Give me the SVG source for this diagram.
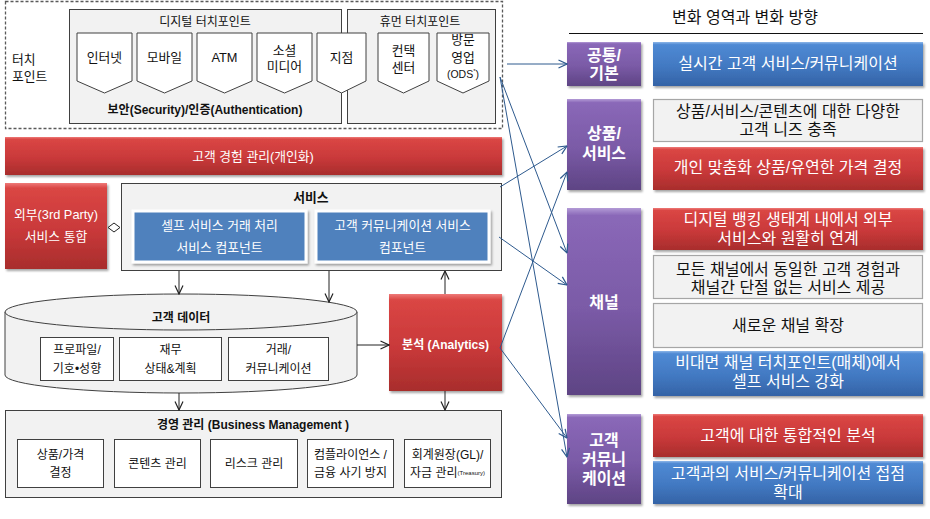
<svg xmlns="http://www.w3.org/2000/svg" width="930" height="519" viewBox="0 0 930 519">
<defs>
  <linearGradient id="gRed" x1="0" y1="0" x2="0" y2="1">
    <stop offset="0" stop-color="#EE7A78"/>
    <stop offset="0.06" stop-color="#DA4644"/>
    <stop offset="0.55" stop-color="#C9393A"/>
    <stop offset="1" stop-color="#A82D2C"/>
  </linearGradient>
  <linearGradient id="gBlue" x1="0" y1="0" x2="0" y2="1">
    <stop offset="0" stop-color="#8DB6E8"/>
    <stop offset="0.06" stop-color="#4F8AD4"/>
    <stop offset="0.55" stop-color="#4279C2"/>
    <stop offset="1" stop-color="#3463A6"/>
  </linearGradient>
  <linearGradient id="gPurple" x1="0" y1="0" x2="0" y2="1">
    <stop offset="0" stop-color="#B39BD6"/>
    <stop offset="0.04" stop-color="#8A68B8"/>
    <stop offset="0.55" stop-color="#7A5AA6"/>
    <stop offset="1" stop-color="#5E4484"/>
  </linearGradient>
  <filter id="sh" x="-10%" y="-10%" width="130%" height="140%">
    <feDropShadow dx="1.5" dy="2" stdDeviation="1.2" flood-color="#000" flood-opacity="0.35"/>
  </filter>
  <marker id="aBlue" viewBox="0 0 10 10" refX="9.5" refY="5" markerWidth="10" markerHeight="10" markerUnits="userSpaceOnUse" orient="auto">
    <path d="M1,1 L9.5,5 L1,9" fill="none" stroke="#2E5A8E" stroke-width="1.2"/>
  </marker>
  <marker id="aBlack" viewBox="0 0 10 10" refX="9.5" refY="5" markerWidth="10" markerHeight="10" markerUnits="userSpaceOnUse" orient="auto">
    <path d="M1,1 L9.5,5 L1,9" fill="none" stroke="#222" stroke-width="1.2"/>
  </marker>
</defs>
<style>
  text { font-family: "Liberation Sans", "Noto Sans CJK KR", sans-serif; fill: #111; text-anchor: middle; dominant-baseline: central; }
  .s12 { font-size: 12px; }
  .s13 { font-size: 12.8px; }
  .s16 { font-size: 16px; }
  .b { font-weight: bold; }
  .w { fill: #fff; }
  .red { fill: url(#gRed); filter: url(#sh); }
  .blue { fill: url(#gBlue); filter: url(#sh); }
  .purple { fill: url(#gPurple); filter: url(#sh); }
  .gray { fill: #F2F2F2; stroke: #404040; stroke-width: 1; }
  .grayR { fill: #F2F2F2; stroke: #A6A6A6; stroke-width: 1.2; }
  .wbox { fill: #fff; stroke: #404040; stroke-width: 1; }
  .pent { fill: #fff; stroke: #404040; stroke-width: 1; }
  .ibox { fill: #4F81BD; stroke: #fff; stroke-width: 3; filter: url(#sh); }
  .cb { stroke: #2E5A8E; stroke-width: 1; fill: none; marker-end: url(#aBlue); }
  .ck { stroke: #222; stroke-width: 1; fill: none; marker-end: url(#aBlack); }
</style>
<rect x="0" y="0" width="930" height="519" fill="#fff"/>

<!-- Touch point area -->
<g id="touchpoint-area">
  <rect x="5.5" y="1.5" width="497" height="127" fill="none" stroke="#595959" stroke-width="1.3" stroke-dasharray="3,2"/>
  <text class="s13" x="12" y="59" style="text-anchor:start">터치</text>
  <text class="s13" x="12" y="76" style="text-anchor:start">포인트</text>
</g>
<g id="digital-touchpoints">
  <rect class="gray" x="69.5" y="9.5" width="272" height="114"/>
  <text class="s12" x="205" y="22">디지털 터치포인트</text>
  <text class="s12 b" x="205" y="110">보안(Security)/인증(Authentication)</text>
</g>
<g id="human-touchpoints">
  <rect class="gray" x="347.5" y="9.5" width="148" height="114"/>
  <text class="s12" x="420" y="22">휴먼 터치포인트</text>
</g>
<g id="tp-internet">
  <polygon class="pent" points="77,33 132,33 132,81 104.5,93 77,81"/>
  <text class="s13" x="104.5" y="57">인터넷</text>
</g>
<g id="tp-mobile">
  <polygon class="pent" points="137,33 192,33 192,81 164.5,93 137,81"/>
  <text class="s13" x="164.5" y="57">모바일</text>
</g>
<g id="tp-atm">
  <polygon class="pent" points="197,33 252,33 252,81 224.5,93 197,81"/>
  <text class="s13" x="224.5" y="57">ATM</text>
</g>
<g id="tp-social">
  <polygon class="pent" points="257,33 312,33 312,81 284.5,93 257,81"/>
  <text class="s13" x="284.5" y="50">소셜</text>
  <text class="s13" x="284.5" y="66">미디어</text>
</g>
<g id="tp-branch">
  <polygon class="pent" points="317,33 366,33 366,81 341.5,93 317,81"/>
  <text class="s13" x="341.5" y="57">지점</text>
</g>
<g id="tp-contact">
  <polygon class="pent" points="378,33 429,33 429,81 403.5,93 378,81"/>
  <text class="s13" x="403.5" y="50">컨택</text>
  <text class="s13" x="403.5" y="67">센터</text>
</g>
<g id="tp-visit">
  <polygon class="pent" points="437,33 489,33 489,81 463,93 437,81"/>
  <text class="s13" x="463" y="39">방문</text>
  <text class="s13" x="463" y="57">영업</text>
  <text x="463" y="74" style="font-size:10.5px">(ODS<tspan style="font-size:6px" dy="-3">*</tspan><tspan dy="3">)</tspan></text>
</g>

<!-- Customer experience management -->
<g id="cem">
  <rect class="red" x="5" y="137" width="497" height="38"/>
  <text class="s13 w" x="253" y="156">고객 경험 관리(개인화)</text>
</g>
<g id="external">
  <rect class="red" x="5" y="183" width="102" height="86"/>
  <text class="s13 w" x="56" y="214">외부(3rd Party)</text>
  <text class="s13 w" x="56" y="236">서비스 통합</text>
</g>
<g id="services">
  <rect class="gray" x="121.5" y="183.5" width="380" height="87"/>
  <text class="s13 b" x="311" y="197">서비스</text>
  <polygon points="108,227.5 114,223 120,227.5 114,232" fill="#fff" stroke="#222" stroke-width="1"/>
</g>
<g id="svc-self">
  <rect class="ibox" x="133" y="211" width="173" height="51"/>
  <text class="s13 w" x="219.5" y="225">셀프 서비스 거래 처리</text>
  <text class="s13 w" x="219.5" y="247">서비스 컴포넌트</text>
</g>
<g id="svc-comm">
  <rect class="ibox" x="316" y="211" width="173" height="51"/>
  <text class="s13 w" x="402.5" y="225">고객 커뮤니케이션 서비스</text>
  <text class="s13 w" x="402.5" y="247">컴포넌트</text>
</g>

<!-- Customer data cylinder -->
<g id="customer-data">
  <path d="M5,312 V375 A176,18 0 0 0 357,375 V312 Z" fill="#F2F2F2" stroke="#404040" stroke-width="1"/>
  <ellipse cx="181" cy="312" rx="176" ry="18" fill="#F2F2F2" stroke="#404040" stroke-width="1"/>
  <text class="s12 b" x="181" y="318">고객 데이터</text>
  <rect class="wbox" x="40.5" y="337.5" width="73" height="43"/>
  <text class="s12" x="77" y="350">프로파일/</text>
  <text class="s12" x="77" y="369">기호•성향</text>
  <rect class="wbox" x="119.5" y="337.5" width="102" height="43"/>
  <text class="s12" x="170.5" y="350">재무</text>
  <text class="s12" x="170.5" y="369">상태&amp;계획</text>
  <rect class="wbox" x="228.5" y="337.5" width="100" height="43"/>
  <text class="s12" x="278.5" y="350">거래/</text>
  <text class="s12" x="278.5" y="369">커뮤니케이션</text>
</g>
<g id="analytics">
  <rect class="red" x="389" y="294" width="113" height="97"/>
  <text class="s12 b w" x="445.5" y="345">분석 (Analytics)</text>
</g>

<!-- Business management -->
<g id="business-mgmt">
  <rect class="gray" x="5.5" y="410.5" width="496" height="87"/>
  <text class="s12 b" x="253" y="425">경영 관리 (Business Management )</text>
</g>
<g id="bm-product">
  <rect class="wbox" x="17.5" y="439.5" width="86" height="48"/>
  <text class="s12" x="60.5" y="455">상품/가격</text>
  <text class="s12" x="60.5" y="473">결정</text>
</g>
<g id="bm-content">
  <rect class="wbox" x="114.5" y="439.5" width="86" height="48"/>
  <text class="s12" x="157.5" y="464">콘텐츠 관리</text>
</g>
<g id="bm-risk">
  <rect class="wbox" x="210.5" y="439.5" width="87" height="48"/>
  <text class="s12" x="254" y="464">리스크 관리</text>
</g>
<g id="bm-compliance">
  <rect class="wbox" x="307.5" y="439.5" width="86" height="48"/>
  <text class="s12" x="350.5" y="455">컴플라이언스 /</text>
  <text class="s12" x="350.5" y="473">금융 사기 방지</text>
</g>
<g id="bm-ledger">
  <rect class="wbox" x="404.5" y="439.5" width="86" height="48"/>
  <text class="s12" x="447.5" y="455">회계원장(GL)/</text>
  <text class="s12" x="447.5" y="473">자금 관리<tspan style="font-size:6px">(Treasury)</tspan></text>
</g>

<!-- Right side -->
<g id="right-header">
  <text class="s16" x="745" y="17">변화 영역과 변화 방향</text>
  <line x1="569" y1="33.5" x2="923" y2="33.5" stroke="#111" stroke-width="1.2"/>
</g>
<g id="area-common">
  <rect class="purple" x="567" y="42" width="74" height="44"/>
  <text class="s16 b w" x="604" y="55">공통/</text>
  <text class="s16 b w" x="604" y="73">기본</text>
</g>
<g id="area-product">
  <rect class="purple" x="567" y="99" width="74" height="91"/>
  <text class="s16 b w" x="604" y="133">상품/</text>
  <text class="s16 b w" x="604" y="153">서비스</text>
</g>
<g id="area-channel">
  <rect class="purple" x="567" y="208" width="74" height="187"/>
  <text class="s16 b w" x="604" y="302">채널</text>
</g>
<g id="area-comm">
  <rect class="purple" x="567" y="414" width="74" height="90"/>
  <text class="s16 b w" x="604" y="440">고객</text>
  <text class="s16 b w" x="604" y="459">커뮤니</text>
  <text class="s16 b w" x="604" y="478">케이션</text>
</g>
<g id="dir-realtime">
  <rect class="blue" x="653" y="42" width="270" height="44"/>
  <text class="s16 w" x="788" y="63">실시간 고객 서비스/커뮤니케이션</text>
</g>
<g id="dir-needs">
  <rect class="grayR" x="653.5" y="99.5" width="269" height="42"/>
  <text class="s16" x="788" y="111">상품/서비스/콘텐츠에 대한 다양한</text>
  <text class="s16" x="788" y="129">고객 니즈 충족</text>
</g>
<g id="dir-pricing">
  <rect class="red" x="653" y="147" width="270" height="43"/>
  <text class="s16 w" x="788" y="167">개인 맞춤화 상품/유연한 가격 결정</text>
</g>
<g id="dir-ecosystem">
  <rect class="red" x="653" y="208" width="270" height="42"/>
  <text class="s16 w" x="788" y="219">디지털 뱅킹 생태계 내에서 외부</text>
  <text class="s16 w" x="788" y="238">서비스와 원활히 연계</text>
</g>
<g id="dir-omni">
  <rect class="grayR" x="653.5" y="255.5" width="269" height="43"/>
  <text class="s16" x="788" y="269">모든 채널에서 동일한 고객 경험과</text>
  <text class="s16" x="788" y="287">채널간 단절 없는 서비스 제공</text>
</g>
<g id="dir-newchannel">
  <rect class="grayR" x="653.5" y="303.5" width="269" height="44"/>
  <text class="s16" x="788" y="325">새로운 채널 확장</text>
</g>
<g id="dir-selfservice">
  <rect class="blue" x="653" y="351" width="270" height="45"/>
  <text class="s16 w" x="788" y="362">비대면 채널 터치포인트(매체)에서</text>
  <text class="s16 w" x="788" y="381">셀프 서비스 강화</text>
</g>
<g id="dir-analysis">
  <rect class="red" x="653" y="414" width="270" height="43"/>
  <text class="s16 w" x="788" y="435">고객에 대한 통합적인 분석</text>
</g>
<g id="dir-touch">
  <rect class="blue" x="653" y="461" width="270" height="43"/>
  <text class="s16 w" x="788" y="473">고객과의 서비스/커뮤니케이션 접점</text>
  <text class="s16 w" x="788" y="492">확대</text>
</g>

<!-- Connectors -->
<g id="connectors">
  <line class="ck" x1="179" y1="271" x2="179" y2="294"/>
  <line class="ck" x1="329" y1="271" x2="329" y2="302"/>
  <line class="ck" x1="357" y1="345" x2="389" y2="345"/>
  <line class="ck" x1="445" y1="294" x2="445" y2="271"/>
  <line class="ck" x1="179" y1="393" x2="179" y2="410"/>
  <line class="ck" x1="445" y1="391" x2="445" y2="410"/>
  <line class="cb" x1="507" y1="64" x2="567" y2="64"/>
  <line class="cb" x1="500" y1="77" x2="567" y2="253"/>
  <line class="cb" x1="500" y1="77" x2="567" y2="457"/>
  <line class="cb" x1="500" y1="187" x2="567" y2="146"/>
  <line class="cb" x1="500" y1="348" x2="567" y2="172"/>
  <line class="cb" x1="499" y1="237" x2="567" y2="285"/>
  <line class="cb" x1="500" y1="348" x2="567" y2="438"/>
</g>
</svg>
